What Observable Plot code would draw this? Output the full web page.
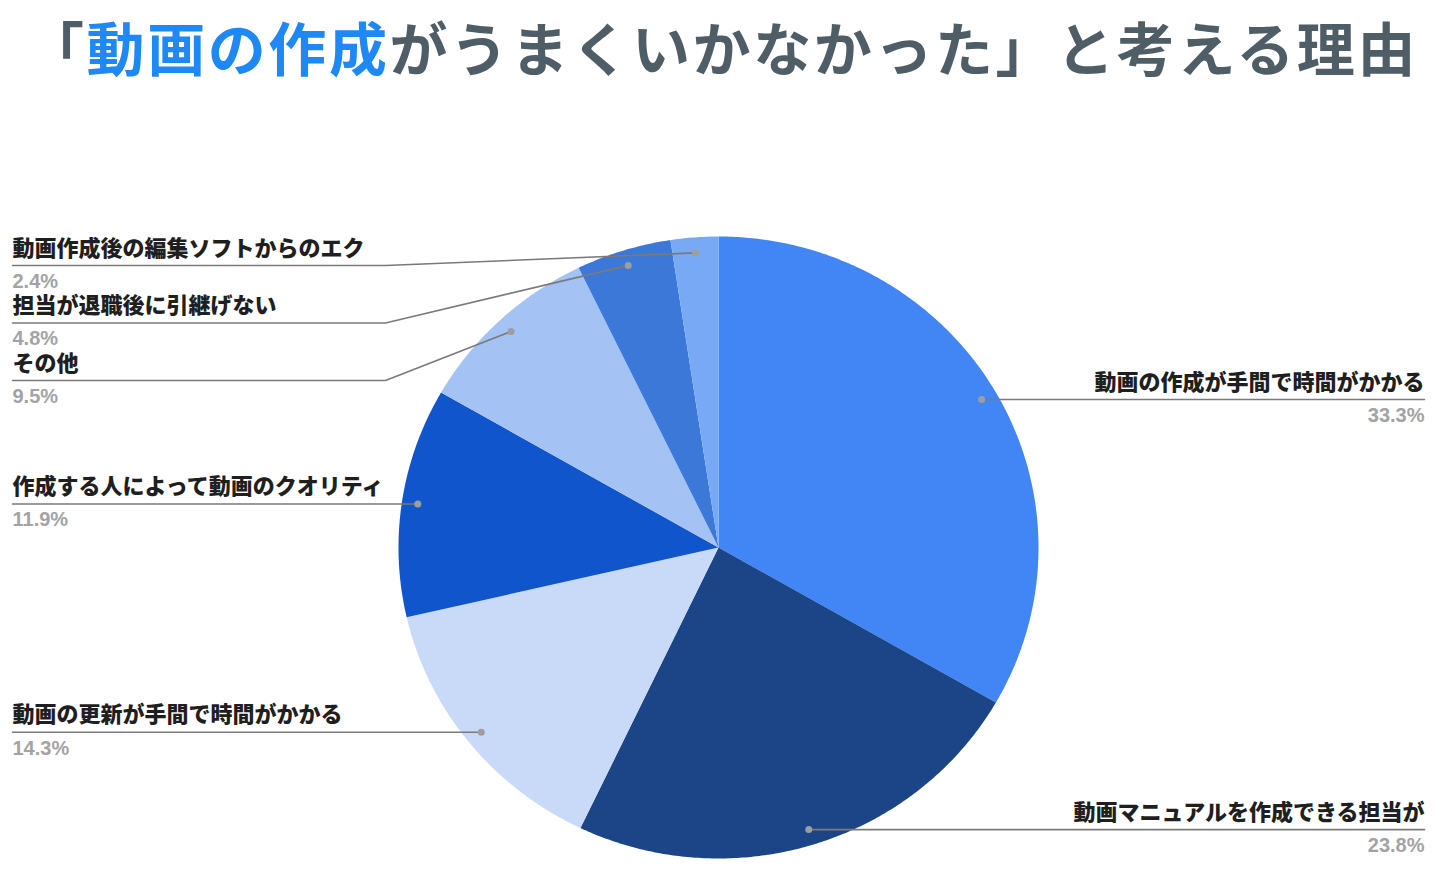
<!DOCTYPE html>
<html>
<head>
<meta charset="utf-8">
<script src="https://cdn.jsdelivr.net/npm/d3@7"></script>
<script src="https://cdn.jsdelivr.net/npm/@observablehq/plot@0.6"></script>
<style>
  html, body { margin: 0; padding: 0; background: #ffffff; }
  #title {
    height: 100px; box-sizing: border-box; padding-top: 10px;
    text-align: center; font-family: "Noto Sans CJK JP", sans-serif;
    font-weight: 700; font-size: 58px; line-height: 72px; letter-spacing: 2.6px;
    color: #4f5e66; white-space: nowrap;
  }
  #title .hl { color: #1e88f5; }
</style>
</head>
<body>
<div id="title">「<span class="hl">動画の作成</span>がうまくいかなかった」と考える理由</div>
<div id="chart"></div>
<script>
// ---- data ----
const categories = [
  "動画の作成が手間で時間がかかる",
  "動画マニュアルを作成できる担当が",
  "動画の更新が手間で時間がかかる",
  "作成する人によって動画のクオリティ",
  "その他",
  "担当が退職後に引継げない",
  "動画作成後の編集ソフトからのエク"
];
const shares = [33.3, 23.8, 14.3, 11.9, 9.5, 4.8, 2.4];
const sliceColors = ["#4285f4", "#1c4587", "#c9daf8", "#1155cc", "#a4c2f4", "#3c78d8", "#78a9f5"];

// ---- layout ----
const W = 1444, H = 769;
const cx = 718, cy = 447, rx = 320, ry = 311;
const leftX = 12, rightX = 1424, elbowX = 385;
const pt = (a, f = 1) => [cx + rx * f * Math.sin(a), cy - ry * f * Math.cos(a)];

const arcs = d3.pie().sort(null).value(d => d)(shares);
const slices = arcs.map((a, i) => {
  const ring = [[cx, cy]];
  const n = Math.max(4, Math.ceil((a.endAngle - a.startAngle) / (Math.PI / 360)));
  for (let k = 0; k <= n; k++) ring.push(pt(a.startAngle + (a.endAngle - a.startAngle) * k / n));
  ring.push([cx, cy]);
  const mid = (a.startAngle + a.endAngle) / 2;
  const [dx, dy] = pt(mid, 0.95);
  return {i, name: categories[i], value: shares[i], color: sliceColors[i], ring, dx, dy,
          side: mid < Math.PI ? "right" : "left"};
});

// label placement: avoid overlaps on the left side
const minY = 165, gap = 57.5;
const lefts = slices.filter(s => s.side === "left").sort((a, b) => a.dy - b.dy);
let prev = minY - gap;
for (const s of lefts) { s.ly = Math.max(s.dy, prev + gap); prev = s.ly; }
for (const s of slices.filter(s => s.side === "right")) s.ly = s.dy;

for (const s of slices) {
  s.path = s.side === "left"
    ? [[leftX, s.ly], [elbowX, s.ly], [s.dx, s.dy]]
    : [[s.dx, s.dy], [rightX, s.ly]];
  s.tx = s.side === "left" ? leftX : rightX;
  s.pct = s.value.toFixed(1) + "%";
}

const wedges = {type: "FeatureCollection", features: slices.map(s => ({
  type: "Feature", properties: {color: s.color}, geometry: {type: "Polygon", coordinates: [s.ring]}
}))};
const leaders = {type: "FeatureCollection", features: slices.map(s => ({
  type: "Feature", properties: {}, geometry: {type: "LineString", coordinates: s.path}
}))};

const labelStyle = {fontSize: 22, fontWeight: 900, fill: "#1f1f1f",
  fontFamily: "'Noto Sans CJK JP', sans-serif", letterSpacing: "0.5px"};
const pctStyle = {fontSize: 20, fontWeight: 700, fill: "#a3a3a3",
  fontFamily: "'Liberation Sans', Arial, sans-serif"};
const L = slices.filter(s => s.side === "left");
const R = slices.filter(s => s.side === "right");

const chart = Plot.plot({
  width: W, height: H,
  margin: 0,
  projection: {type: "identity", domain: {type: "MultiPoint", coordinates: [[0, 0], [W, H]]}},
  marks: [
    Plot.geo(wedges, {fill: d => d.properties.color, stroke: "none"}),
    Plot.geo(leaders, {stroke: "#7a7a7a", strokeWidth: 1.6, fill: "none"}),
    Plot.dot(slices, {x: "dx", y: "dy", r: 3.5, fill: "#9e9e9e", stroke: "none"}),
    Plot.text(L, {x: "tx", y: d => d.ly - 17, text: "name", textAnchor: "start", ...labelStyle}),
    Plot.text(R, {x: "tx", y: d => d.ly - 17, text: "name", textAnchor: "end", ...labelStyle}),
    Plot.text(L, {x: "tx", y: d => d.ly + 16, text: "pct", textAnchor: "start", ...pctStyle}),
    Plot.text(R, {x: "tx", y: d => d.ly + 16, text: "pct", textAnchor: "end", ...pctStyle})
  ]
});
chart.querySelectorAll("text").forEach(t => {
  if (t.getAttribute("font-family") && t.getAttribute("font-family").includes("CJK")) t.style.letterSpacing = "0.5px";
});
document.getElementById("chart").appendChild(chart);
</script>
</body>
</html>
